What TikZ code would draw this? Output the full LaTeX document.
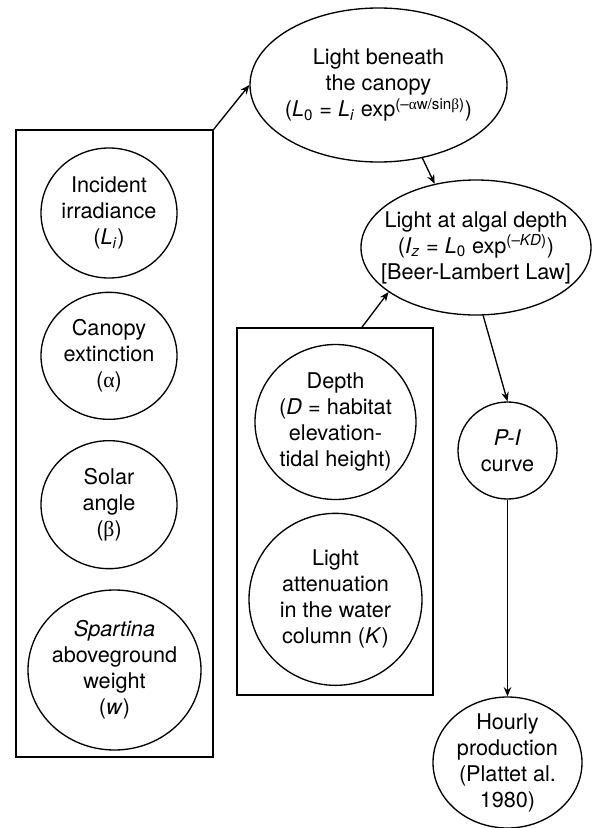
\documentclass[tikz,border=0pt]{standalone}
\usepackage{fontspec}
\setmainfont{TeX Gyre Heros}
\newfontfamily\grk{Liberation Serif}
\usetikzlibrary{arrows.meta,positioning,fit,shapes.geometric,calc}

\begin{document}
\begin{tikzpicture}[
  x=0.6pt,y=-0.6pt,
  font=\fontsize{13}{15.6}\selectfont,
  bubble/.style={draw,ellipse,line width=0.8pt,align=center,inner sep=-12pt},
  frame/.style={draw,line width=1pt,inner sep=0pt},
  arr/.style={-{Stealth[length=5.5pt,width=4.5pt]},line width=0.8pt}
]
\useasboundingbox (0,0) rectangle (592,828);
% canopy inputs
\node[bubble,minimum width=81.6pt,minimum height=78pt] (inc) at (109,213)
  {Incident\\irradiance\\(\textit{L}\textsubscript{\textit{i}})};
\node[bubble,minimum width=81.6pt,minimum height=76.2pt,below=7.8pt of inc] (ext)
  {Canopy\\extinction\\({\grk α})};
\node[bubble,minimum width=81.6pt,minimum height=76.8pt,below=12pt of ext] (sol)
  {Solar\\angle\\({\grk β})};
\node[bubble,minimum width=103.8pt,minimum height=96pt,below=12pt of sol,xshift=3.3pt] (spa)
  {\textit{Spartina}\\aboveground\\weight\\(\textit{w})};
\node[frame,fit={(16,130) (213,757)}] (leftbox) {};
% water inputs
\node[bubble,minimum width=96.6pt,minimum height=93pt] (dep) at (335.5,422)
  {Depth\\(\textit{D} = habitat\\elevation-\\tidal height)};
\node[bubble,minimum width=103.8pt,minimum height=103.2pt,below=7.5pt of dep] (att)
  {Light\\attenuation\\in the water\\column (\textit{K})};
\node[frame,fit={(237,328) (433,695)}] (midbox) {};
% light chain
\node[bubble,minimum width=154.2pt,minimum height=92.4pt] (beneath) at (378.5,85)
  {Light beneath\\the canopy\\(\textit{L}\textsubscript{0} = \textit{L}\textsubscript{\textit{i}} exp\textsuperscript{(–{\grk α}w/sin{\grk β})})};
\node[bubble,minimum width=138pt,minimum height=81pt] (algal) at (476,247.5)
  {Light at algal depth\\(\textit{I}\textsubscript{\textit{z}} = \textit{L}\textsubscript{0} exp\textsuperscript{(–\textit{KD})})\\{[}Beer-Lambert Law]};
\node[bubble,minimum width=59.4pt,minimum height=58.2pt] (pi) at (507.5,450.5)
  {\textit{P-I}\\curve};
\node[bubble,minimum width=89.4pt,minimum height=78.6pt,below=118pt of pi] (hourly)
  {Hourly\\production\\(Plattet al.\\1980)};

\draw[arr] (leftbox.north east) -- (beneath.west);
\draw[arr] (beneath.-59) -- (algal.123);
\draw[arr] ($(midbox.north)+(27,0)$) -- (algal.207);
\draw[arr] (algal.-84) -- (pi.north);
\draw[arr] (pi) -- (hourly);
\end{tikzpicture}
\end{document}
